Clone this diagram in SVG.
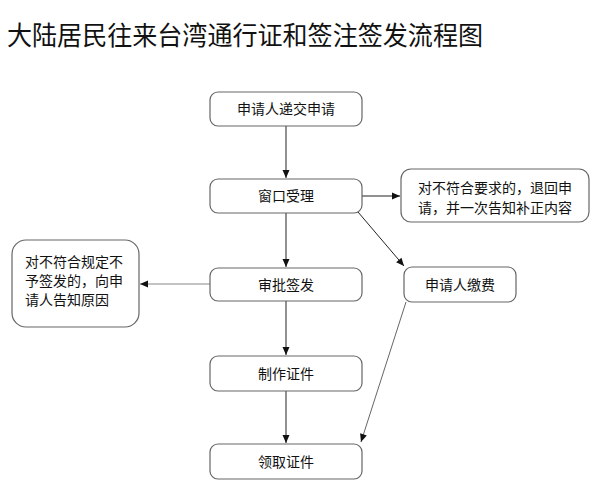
<svg xmlns="http://www.w3.org/2000/svg" width="607" height="487" viewBox="0 0 607 487">
<defs>
<marker id="ah" markerWidth="10" markerHeight="10" refX="9" refY="5" orient="auto" markerUnits="userSpaceOnUse">
<path d="M1,1.5 L9,5 L1,8.5 Z" fill="#111"/>
</marker>
</defs>
<style>
.box{fill:#fff;stroke:#666;stroke-width:1.2}
.t{font-family:"Noto Sans CJK SC","Liberation Sans",sans-serif;font-size:14px;fill:#111}
.c{text-anchor:middle}
.ln{stroke:#222;stroke-width:1;fill:none;marker-end:url(#ah)}
</style>
<rect width="607" height="487" fill="#fff"/>
<text x="7" y="45" font-family="Noto Sans CJK SC, sans-serif" font-size="26" fill="#111" textLength="476" lengthAdjust="spacingAndGlyphs">大陆居民往来台湾通行证和签注签发流程图</text>
<g id="connectors">
<line class="ln" x1="286" y1="126" x2="286" y2="178"/>
<line class="ln" x1="362" y1="196" x2="400" y2="196"/>
<line class="ln" x1="358" y1="212" x2="404" y2="266"/>
<line class="ln" x1="286" y1="213" x2="286" y2="267"/>
<line class="ln" x1="210" y1="284" x2="140" y2="284" style="stroke:#888"/>
<line class="ln" x1="286" y1="301" x2="286" y2="355"/>
<line class="ln" x1="286" y1="391" x2="286" y2="443"/>
<line class="ln" x1="406" y1="302" x2="361" y2="442" style="stroke:#666"/>
</g>
<g id="n1"><rect class="box" x="210" y="92" width="152" height="34" rx="8"/><text class="t c" x="286" y="114">申请人递交申请</text></g>
<g id="n2"><rect class="box" x="210" y="179" width="152" height="34" rx="8"/><text class="t c" x="286" y="201">窗口受理</text></g>
<g id="n3"><rect class="box" x="210" y="268" width="152" height="33" rx="8"/><text class="t c" x="286" y="290">审批签发</text></g>
<g id="n4"><rect class="box" x="210" y="356" width="152" height="35" rx="8"/><text class="t c" x="286" y="379">制作证件</text></g>
<g id="n5"><rect class="box" x="210" y="444" width="152" height="35" rx="8"/><text class="t c" x="286" y="467">领取证件</text></g>
<g id="n6"><rect class="box" x="401" y="169" width="188" height="53" rx="10"/><text class="t" x="418" y="193">对不符合要求的，退回申</text><text class="t" x="418" y="213">请，并一次告知补正内容</text></g>
<g id="n7"><rect class="box" x="404" y="267" width="112" height="35" rx="8"/><text class="t c" x="460" y="290">申请人缴费</text></g>
<g id="n8"><rect class="box" x="12" y="240" width="127" height="87" rx="14"/><text class="t" x="25" y="267">对不符合规定不</text><text class="t" x="25" y="286">予签发的，向申</text><text class="t" x="25" y="305">请人告知原因</text></g>
</svg>
